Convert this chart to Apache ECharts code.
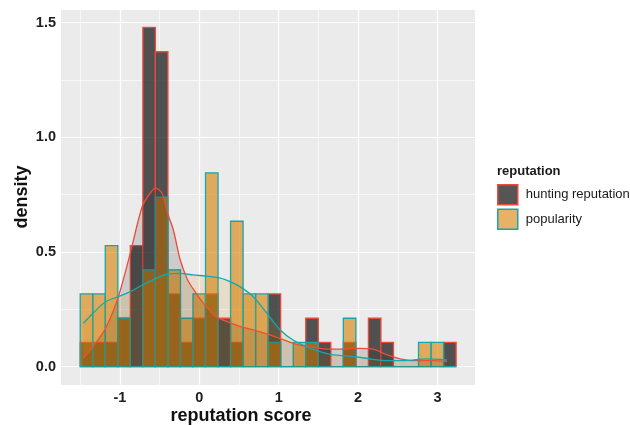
<!DOCTYPE html>
<html>
<head>
<meta charset="utf-8">
<script src="https://cdn.jsdelivr.net/npm/echarts@6/dist/echarts.min.js"></script>
<style>
  html, body { margin: 0; padding: 0; background: #ffffff; }
  #chart { width: 630px; height: 425px; }
</style>
</head>
<body>
<div id="chart"></div>
<script>
// ---- data ----
const binStart = -1.50;
const binWidth = 0.1578;
const huntingDensity = [0.106,0.106,0.106,0.211,0.528,1.479,1.373,0.317,0.106,0.211,0.317,0.211,0.106,0,0,0.317,0,0,0.211,0.106,0,0.106,0,0.211,0.106,0,0,0,0,0.106];
const popularityDensity = [0.317,0.317,0.528,0.211,0,0.422,0.739,0.422,0.211,0.317,0.845,0,0.634,0.317,0.317,0.106,0,0.106,0.106,0,0,0.211,0,0,0,0,0,0.106,0.106,0];

const huntingCurveX = [-1.46,-1.34,-1.18,-1.02,-0.87,-0.72,-0.62,-0.55,-0.47,-0.40,-0.33,-0.24,-0.15,-0.08,0.00,0.08,0.18,0.24,0.35,0.51,0.68,0.85,1.02,1.18,1.35,1.52,1.69,1.86,2.02,2.19,2.36,2.53,2.70,2.95,3.12];
const huntingCurveY = [0.037,0.087,0.167,0.305,0.494,0.697,0.756,0.778,0.756,0.669,0.600,0.465,0.380,0.340,0.300,0.265,0.225,0.212,0.196,0.176,0.160,0.143,0.122,0.102,0.088,0.080,0.076,0.077,0.080,0.076,0.052,0.034,0.026,0.026,0.023];

const popularityCurveX = [-1.46,-1.34,-1.18,-1.02,-0.87,-0.72,-0.55,-0.40,-0.24,-0.08,0.08,0.24,0.35,0.51,0.68,0.85,1.02,1.18,1.35,1.52,1.69,1.86,2.02,2.19,2.36,2.53,2.70,2.86,3.03,3.12];
const popularityCurveY = [0.189,0.233,0.283,0.305,0.327,0.356,0.385,0.404,0.407,0.400,0.395,0.388,0.376,0.349,0.305,0.233,0.160,0.116,0.087,0.065,0.051,0.047,0.041,0.032,0.026,0.026,0.029,0.034,0.032,0.029];

const xTicks = [-1, 0, 1, 2, 3];
const xMinor = [-1.5, -0.5, 0.5, 1.5, 2.5];
const yTicks = [0, 0.5, 1.0, 1.5];
const yMinor = [0.25, 0.75, 1.25];

const seriesNames = ['hunting reputation', 'popularity'];

// ---- styling ----
const FONT = "'Liberation Sans', Arial, sans-serif";
const huntFill = 'rgba(25,25,25,0.74)';
const huntStroke = '#EC4B3C';
const popFill = 'rgba(215,125,0,0.6)';
const popStroke = '#13A8AE';
const huntArea = 'rgba(30,30,30,0.22)';
const popArea = 'rgba(215,135,10,0.2)';

function binData(arr) {
  return arr.map((d, i) => [binStart + i * binWidth, binStart + (i + 1) * binWidth, d]);
}
function pairs(xs, ys) { return xs.map((x, i) => [x, ys[i]]); }

function barRenderer(fill, stroke) {
  return function (params, api) {
    const x0 = api.value(0), x1 = api.value(1), y = api.value(2);
    const p0 = api.coord([x0, y]);
    const p1 = api.coord([x1, 0]);
    return {
      type: 'rect',
      shape: { x: p0[0], y: p0[1], width: p1[0] - p0[0], height: p1[1] - p0[1] },
      style: { fill: fill, stroke: stroke, lineWidth: 1.3 }
    };
  };
}

const gridLines = [].concat(
  xTicks.map(v => ({ xAxis: v, lineStyle: { width: 1.2 } })),
  xMinor.map(v => ({ xAxis: v, lineStyle: { width: 0.6 } })),
  yTicks.map(v => ({ yAxis: v, lineStyle: { width: 1.2 } })),
  yMinor.map(v => ({ yAxis: v, lineStyle: { width: 0.6 } }))
);

const chart = echarts.init(document.getElementById('chart'), null, { renderer: 'canvas' });
chart.setOption({
  animation: false,
  backgroundColor: '#ffffff',
  textStyle: { fontFamily: FONT },
  grid: {
    left: 61, top: 10, width: 414, height: 375,
    show: true, backgroundColor: '#EBEBEB', borderWidth: 0
  },
  title: {
    text: 'reputation',
    left: 497, top: 165, padding: 0,
    textStyle: { fontSize: 13, fontWeight: 'bold', color: '#1a1a1a', fontFamily: FONT }
  },
  legend: {
    data: [
      { name: seriesNames[0], icon: 'rect', itemStyle: { color: huntFill, borderColor: huntStroke, borderWidth: 1.5 } },
      { name: seriesNames[1], icon: 'rect', itemStyle: { color: popFill, borderColor: popStroke, borderWidth: 1.5 } }
    ],
    orient: 'vertical',
    left: 497, top: 184, padding: 0,
    itemWidth: 20, itemHeight: 20, itemGap: 3,
    selectedMode: false,
    textStyle: { fontSize: 13, color: '#1a1a1a', fontFamily: FONT, padding: [0, 0, 0, 3] }
  },
  xAxis: {
    type: 'value', min: -1.742, max: 3.472,
    axisLine: { show: false },
    splitLine: { show: false },
    axisTick: { show: true, customValues: xTicks, length: 3, lineStyle: { color: '#333', width: 1 } },
    axisLabel: {
      customValues: xTicks, margin: 5,
      fontSize: 14.5, fontWeight: 'bold', color: '#1e1e1e', fontFamily: FONT,
      formatter: v => String(v)
    }
  },
  yAxis: {
    type: 'value', min: -0.080, max: 1.555,
    axisLine: { show: false },
    splitLine: { show: false },
    axisTick: { show: true, customValues: yTicks, length: 3, lineStyle: { color: '#333', width: 1 } },
    axisLabel: {
      customValues: yTicks, margin: 5,
      fontSize: 14.5, fontWeight: 'bold', color: '#1e1e1e', fontFamily: FONT,
      formatter: v => v.toFixed(1)
    }
  },
  graphic: [
    {
      type: 'text', x: 22, y: 197, rotation: Math.PI / 2,
      style: { text: 'density', fontSize: 18, fontWeight: 'bold', fill: '#111', fontFamily: FONT, align: 'center', verticalAlign: 'middle' }
    },
    {
      type: 'text', x: 241, y: 416,
      style: { text: 'reputation score', fontSize: 18, fontWeight: 'bold', fill: '#111', fontFamily: FONT, align: 'center', verticalAlign: 'middle' }
    }
  ],
  series: [
    {
      name: 'gridlines', type: 'line', z: 1, silent: true,
      data: [[0, 0]], symbol: 'none', lineStyle: { opacity: 0 },
      markLine: {
        z: 1, silent: true, symbol: ['none', 'none'], label: { show: false },
        emphasis: { disabled: true },
        lineStyle: { color: '#ffffff', type: 'solid' },
        data: gridLines
      }
    },
    {
      name: seriesNames[0], type: 'custom', z: 2,
      renderItem: barRenderer(huntFill, huntStroke),
      itemStyle: { color: huntFill, borderColor: huntStroke },
      encode: { x: [0, 1], y: 2 },
      data: binData(huntingDensity)
    },
    {
      name: seriesNames[1], type: 'custom', z: 3,
      renderItem: barRenderer(popFill, popStroke),
      itemStyle: { color: popFill, borderColor: popStroke },
      encode: { x: [0, 1], y: 2 },
      data: binData(popularityDensity)
    },
    {
      name: 'hunting density', type: 'line', z: 4, silent: true,
      smooth: 0.3, symbol: 'none',
      lineStyle: { color: huntStroke, width: 1.3 },
      areaStyle: { color: huntArea },
      data: pairs(huntingCurveX, huntingCurveY)
    },
    {
      name: 'popularity density', type: 'line', z: 5, silent: true,
      smooth: 0.3, symbol: 'none',
      lineStyle: { color: popStroke, width: 1.3 },
      areaStyle: { color: popArea },
      data: pairs(popularityCurveX, popularityCurveY)
    }
  ]
});
</script>
</body>
</html>
